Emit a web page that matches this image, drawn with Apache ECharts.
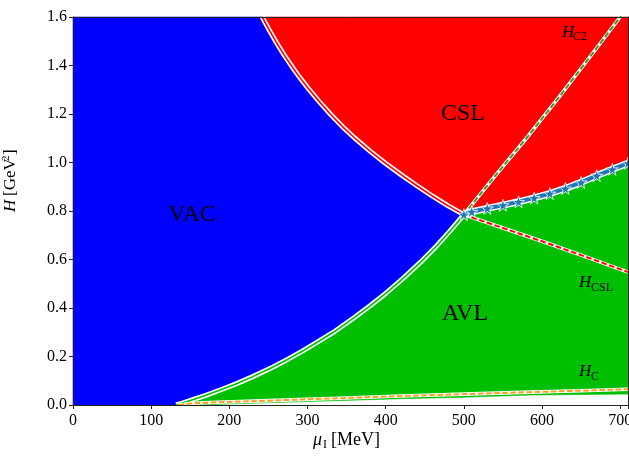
<!DOCTYPE html>
<html>
<head>
<meta charset="utf-8">
<script src="https://cdn.jsdelivr.net/npm/echarts@6/dist/echarts.min.js"></script>
<style>
html, body { margin: 0; padding: 0; background: #fff; }
#chart { width: 629px; height: 459px; }
</style>
</head>
<body>
<div id="chart"></div>
<script>
// Phase diagram in the (mu_I [MeV], H [GeV^2]) plane.
const triplePoint = [500, 0.785];

// VAC / CSL first-order boundary (ends at the triple point)
const vacCslMu = [242, 250, 260, 270, 280, 290, 300, 315, 330, 345, 360, 380, 400, 420, 440, 460, 480];
const vacCslH  = [1.600, 1.552, 1.496, 1.444, 1.396, 1.351, 1.309, 1.251, 1.197, 1.147, 1.102, 1.047, 0.996, 0.949, 0.904, 0.861, 0.821];

// VAC / AVL boundary (ends at the triple point)
const vacAvlMu = [132, 140, 155, 170, 190, 210, 230, 256, 275, 295, 315, 335, 360, 380, 400, 423, 445, 466, 483];
const vacAvlH  = [0, 0.008, 0.024, 0.040, 0.064, 0.089, 0.117, 0.157, 0.189, 0.225, 0.264, 0.304, 0.361, 0.409, 0.460, 0.524, 0.590, 0.659, 0.720];

// AVL / CSL boundary (computed points, drawn with markers)
const avlCslMu = [510, 530, 550, 570, 590, 610, 630, 650, 670, 690, 710];
const avlCslH  = [0.797, 0.811, 0.824, 0.838, 0.854, 0.872, 0.893, 0.918, 0.946, 0.972, 0.997];

// Critical fields (H_C2 and H_CSL start at the triple point)
const hc2Mu  = [540, 580, 620, 660, 700, 710];
const hc2H   = [0.945, 1.100, 1.262, 1.430, 1.600, 1.645];
const hcslMu = [550, 600, 650, 710];
const hcslH  = [0.730, 0.675, 0.618, 0.548];
const hcMu   = [135, 150, 175, 250, 340, 420, 500, 585, 650, 710];
const hcH    = [0, 0.006, 0.010, 0.018, 0.028, 0.037, 0.045, 0.053, 0.059, 0.065];

// Lower edge of the AVL region
const avlFloorMu = [165, 215, 300, 420, 500, 585, 650, 710];
const avlFloorH  = [0, 0.006, 0.014, 0.026, 0.032, 0.041, 0.043, 0.045];

const xMin = 0, xMax = 710, xStep = 100;
const yMin = 0, yMax = 1.6, yStep = 0.2;

const zip = (xs, ys) => xs.map((x, i) => [x, ys[i]]);

const vacCsl = zip(vacCslMu, vacCslH).concat([triplePoint]);
const vacAvl = zip(vacAvlMu, vacAvlH).concat([triplePoint]);
const avlCsl = [triplePoint].concat(zip(avlCslMu, avlCslH));
const hc2    = [triplePoint].concat(zip(hc2Mu, hc2H));
const hcsl   = [triplePoint].concat(zip(hcslMu, hcslH));
const hc     = zip(hcMu, hcH);
const floor  = zip(avlFloorMu, avlFloorH);

// outlines of the three phases
const vacRegion = [[xMin, yMin], [xMin, yMax]].concat(vacCsl, vacAvl.slice().reverse());
const cslRegion = vacCsl.concat(avlCsl.slice(1), [[xMax, yMax]]);
const avlRegion = vacAvl.concat(avlCsl.slice(1), floor.slice().reverse());

const SERIF = "'Liberation Serif', 'Times New Roman', serif";

function region(pts, color) {
  return {
    type: 'custom', silent: true, z: 1, animation: false,
    data: [[0, 0]],
    renderItem: (params, api) => ({
      type: 'polygon',
      shape: { points: pts.map(p => api.coord(p)) },
      style: { fill: color, stroke: color, lineWidth: 0.6 }
    })
  };
}

function curve(pts, color, width, dash, z) {
  return {
    type: 'line', data: pts, symbol: 'none', silent: true, z: z,
    animation: false, clip: true,
    lineStyle: { color: color, width: width, type: dash ? [5.5, 2.6] : 'solid', cap: 'butt', join: 'round' }
  };
}

const STAR = 'path://M50,0 L61,35 L98,35 L68,57 L79,91 L50,70 L21,91 L32,57 L2,35 L39,35 Z';

function txt(x, y, s, size, italic, align) {
  return {
    type: 'text', x: x, y: y, silent: true, z: 100,
    style: {
      text: s, fill: '#000', fontFamily: SERIF, fontSize: size,
      fontStyle: italic ? 'italic' : 'normal',
      align: align || 'left', verticalAlign: 'middle'
    }
  };
}

const chart = echarts.init(document.getElementById('chart'), null, { renderer: 'canvas' });

const axisLine = { show: true, onZero: false, lineStyle: { color: '#222', width: 1 } };

chart.setOption({
  animation: false,
  backgroundColor: '#fff',
  grid: { left: 73, right: 1, top: 17, bottom: 54, outerBoundsMode: 'none', containLabel: false },
  xAxis: [{
    type: 'value', min: xMin, max: xMax, interval: xStep, position: 'bottom', z: 10,
    axisLine: axisLine,
    axisTick: { show: true, inside: false, length: 4, lineStyle: { color: '#222' } },
    axisLabel: {
      color: '#000', fontFamily: SERIF, fontSize: 16, margin: 8,
      formatter: v => (v % xStep === 0 ? String(v) : '')
    },
    splitLine: { show: false }
  }, {
    type: 'value', min: xMin, max: xMax, position: 'top', z: 10,
    axisLine: axisLine,
    axisTick: { show: false }, axisLabel: { show: false }, splitLine: { show: false }
  }],
  yAxis: [{
    type: 'value', min: yMin, max: yMax, interval: yStep, position: 'left', z: 10,
    axisLine: axisLine,
    axisTick: { show: true, inside: false, length: 4, lineStyle: { color: '#222' } },
    axisLabel: {
      color: '#000', fontFamily: SERIF, fontSize: 16, margin: 6,
      formatter: v => v.toFixed(1)
    },
    splitLine: { show: false }
  }, {
    type: 'value', min: yMin, max: yMax, position: 'right', z: 10,
    axisLine: axisLine,
    axisTick: { show: false }, axisLabel: { show: false }, splitLine: { show: false }
  }],
  series: [
    region(vacRegion, '#0000ff'),
    region(cslRegion, '#ff0000'),
    region(avlRegion, '#00bf00'),

    // first-order boundaries around the vacuum
    curve(vacCsl, '#ffffff', 5, false, 3),
    curve(vacCsl, '#ff0000', 1.6, false, 4),
    curve(vacAvl, '#ffffff', 5, false, 3),
    curve(vacAvl, '#00bf00', 1.6, false, 4),

    // critical fields
    curve(hc2, '#ffffff', 3.6, false, 5),
    curve(hc2, '#2ca02c', 2, true, 6),
    curve(hcsl, '#ffffff', 3.6, false, 5),
    curve(hcsl, '#ff0000', 2, true, 6),
    curve(hc, '#ffffff', 3.6, false, 5),
    curve(hc, '#ff9f1c', 2, true, 6),

    // AVL / CSL boundary with markers
    curve(avlCsl, '#ffffff', 7, false, 7),
    {
      type: 'line', data: avlCsl, z: 8, silent: true, animation: false,
      symbol: STAR, symbolSize: 12, showAllSymbol: true,
      lineStyle: { color: '#1f77b4', width: 4 },
      itemStyle: { color: '#1f77b4', borderColor: '#ffffff', borderWidth: 0.8 }
    }
  ],
  graphic: [
    // phase names
    txt(192, 215, 'VAC', 24, false, 'center'),
    txt(463, 114, 'CSL', 24, false, 'center'),
    txt(465, 314, 'AVL', 24, false, 'center'),

    // critical field names
    txt(562, 33, 'H', 17, true), txt(573, 37, 'C2', 12, false),
    txt(579, 283, 'H', 17, true), txt(591, 288, 'CSL', 12, false),
    txt(579, 372, 'H', 17, true), txt(591, 377, 'C', 12, false),

    // x axis name: mu_I [MeV]
    txt(313, 440, 'μ', 18, true), txt(323, 445, 'I', 12, false), txt(331, 440, '[MeV]', 18, false),

    // y axis name: H [GeV^2], rotated
    {
      type: 'group', x: 11, y: 212, rotation: Math.PI / 2, silent: true, z: 100,
      children: [
        txt(0, 0, 'H', 17, true),
        txt(16, 0, '[GeV', 17, false),
        txt(51, -5, '2', 11, false),
        txt(57, 0, ']', 17, false)
      ]
    }
  ]
});
</script>
</body>
</html>
